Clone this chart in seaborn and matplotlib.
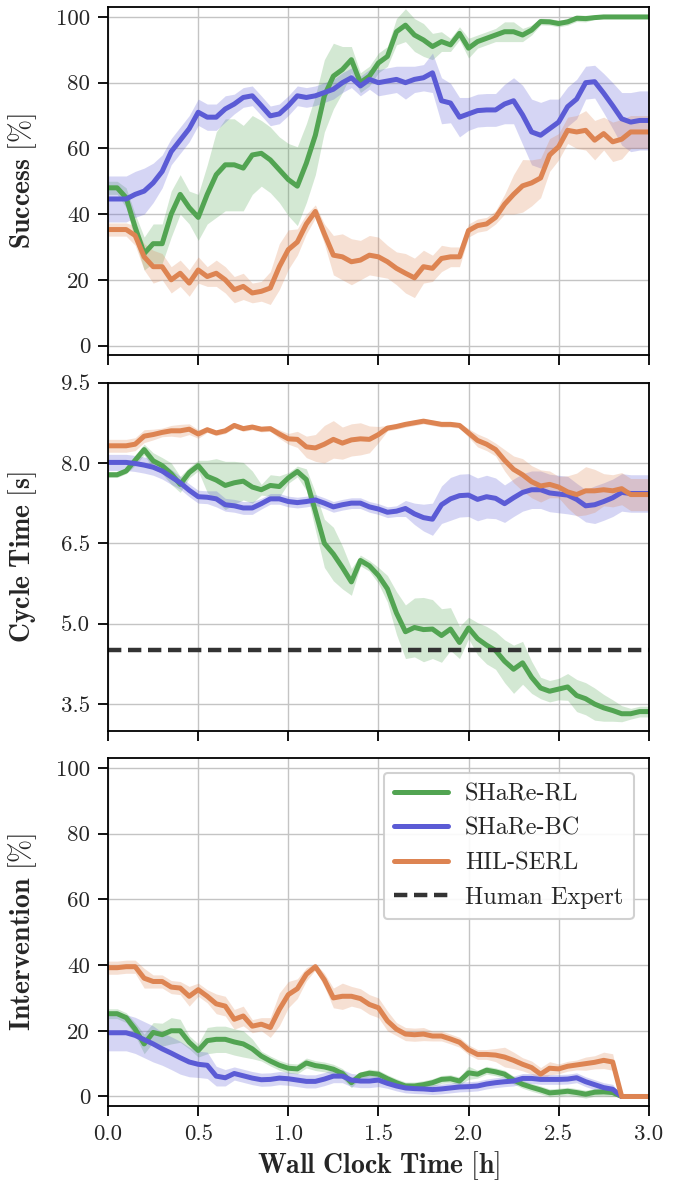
import numpy as np
import pandas as pd
import matplotlib
matplotlib.use("Agg")
import matplotlib.pyplot as plt
from matplotlib.lines import Line2D
import seaborn as sns

# ---------------- data ----------------
time_h = [round(0.05 * i, 2) for i in range(61)]

methods = ["SHaRe-RL", "SHaRe-BC", "HIL-SERL"]
colors = {"SHaRe-RL": "#52a452", "SHaRe-BC": "#5b5bd5", "HIL-SERL": "#dd8452"}
human_expert_cycle = 4.5

# Success [%]
succ_rl = [48, 48, 45, 36, 28, 31, 31, 40, 46, 42, 39, 46, 52, 55, 55, 54, 58, 58.5, 56.5, 53.5,
           50.5, 48.5, 55.5, 64, 76, 82, 84, 87, 80, 82, 86, 88, 95.5, 97.5, 94.5, 93, 91, 92.5, 91.5, 95,
           90.5, 92.5, 93.5, 94.5, 95.5, 95.5, 94.5, 96, 98.6, 98.5, 98, 98.5, 99.6, 99.5, 99.8, 100, 100, 100, 100, 100, 100]
succ_rl_ci = [2, 2, 3, 4, 5, 6, 6, 7, 6, 5, 7, 9, 13, 14, 14, 13, 12, 10, 10, 10,
              11, 12, 12, 12, 11, 10, 7, 4, 3, 3, 3, 3, 4, 5, 5, 5, 4, 3, 2, 2,
              3, 2, 2, 2, 3, 3, 2, 1.5, 1, 1, 1, 1, 1, 1, 0.5, 0.3, 0.3, 0.3, 0.3, 0.3, 0.3]
succ_bc = [44.6, 44.6, 44.6, 46, 47, 49.5, 53, 59, 62.5, 66, 71, 69.5, 69.5, 72, 73.5, 75.5, 76, 73, 69.9, 70.5,
           73, 76, 75.5, 76, 77, 78, 80, 81.5, 79, 81, 80, 80.5, 81, 80, 81, 81.5, 83, 74.5, 73.8, 69.5,
           70.5, 71.5, 71.7, 71.7, 73.5, 74.5, 70.2, 65, 64, 66, 68, 72.7, 75, 80, 80.3, 76.8, 73, 69, 68, 68.5, 68.5]
succ_bc_ci = [7, 7, 7, 7, 7, 6, 5, 4, 4, 4, 4, 4, 4, 4, 3, 3, 3, 3, 3, 3,
              3, 3, 3, 3, 3, 3, 3, 3, 3, 3, 4, 4, 4, 5, 4, 4, 6, 7, 6, 6,
              5, 5, 5, 5, 6, 7, 9, 10, 10, 9, 7, 6, 6, 5, 5, 6, 7, 8, 9, 9, 9]
succ_hil = [35.3, 35.3, 35.3, 33.5, 27, 24, 24, 20, 22, 19, 23, 21, 22, 20, 17, 18, 16, 16.5, 17.5, 24,
            29.2, 31.5, 37, 40.8, 34, 27.5, 27, 25.5, 26, 27.5, 27, 25.5, 23.5, 22, 20.6, 24, 23.5, 26.5, 27, 27,
            35, 36.5, 37, 39, 43, 46, 48.6, 49.5, 51, 58, 60.5, 65.5, 65, 65.5, 62.5, 64.5, 62, 62.8, 65, 65, 65]
succ_hil_ci = [2, 2, 2, 3, 4, 5, 4, 4, 4, 4, 4, 3, 4, 4, 4, 4, 3, 3, 5, 7,
               6, 4, 3, 2, 3, 6, 7, 7, 6, 6, 6, 5, 5, 6, 6, 5, 4, 4, 3, 3,
               2, 2, 2, 2, 3, 6, 8, 7, 6, 5, 4, 4, 5, 6, 6, 5, 6, 6, 5, 5, 5]

# Cycle time [s]
cyc_rl = [7.78, 7.78, 7.85, 8.05, 8.25, 8.04, 7.95, 7.8, 7.6, 7.82, 7.95, 7.75, 7.68, 7.58, 7.63, 7.66, 7.55, 7.5, 7.58, 7.56,
          7.72, 7.84, 7.69, 7.1, 6.5, 6.3, 6.05, 5.78, 6.18, 6.08, 5.9, 5.65, 5.2, 4.85, 4.93, 4.89, 4.9, 4.78, 4.9, 4.65,
          4.92, 4.72, 4.6, 4.5, 4.3, 4.15, 4.27, 4.0, 3.8, 3.74, 3.78, 3.82, 3.66, 3.6, 3.5, 3.43, 3.38, 3.32, 3.32, 3.36, 3.36]
cyc_rl_ci = [0.05, 0.05, 0.05, 0.1, 0.1, 0.15, 0.15, 0.2, 0.15, 0.1, 0.1, 0.3, 0.4, 0.45, 0.4, 0.35, 0.3, 0.1, 0.2, 0.2,
             0.1, 0.1, 0.2, 0.35, 0.45, 0.5, 0.4, 0.25, 0.1, 0.1, 0.15, 0.25, 0.4, 0.5, 0.55, 0.6, 0.55, 0.5, 0.4, 0.3,
             0.2, 0.3, 0.35, 0.35, 0.4, 0.45, 0.4, 0.3, 0.2, 0.2, 0.2, 0.25, 0.3, 0.3, 0.3, 0.25, 0.2, 0.15, 0.1, 0.1, 0.1]
cyc_bc = [8.01, 8.01, 8.01, 7.99, 7.96, 7.92, 7.85, 7.74, 7.63, 7.49, 7.37, 7.36, 7.33, 7.22, 7.2, 7.16, 7.16, 7.24, 7.33, 7.33,
          7.28, 7.26, 7.28, 7.31, 7.25, 7.18, 7.22, 7.25, 7.25, 7.18, 7.14, 7.08, 7.1, 7.15, 7.05, 6.98, 6.95, 7.22, 7.33, 7.39,
          7.4, 7.32, 7.37, 7.34, 7.24, 7.35, 7.45, 7.5, 7.5, 7.44, 7.42, 7.4, 7.32, 7.2, 7.22, 7.28, 7.35, 7.45, 7.43, 7.43, 7.43]
cyc_bc_ci = [0.15, 0.15, 0.15, 0.15, 0.15, 0.15, 0.15, 0.14, 0.12, 0.12, 0.12, 0.12, 0.15, 0.12, 0.12, 0.12, 0.12, 0.1, 0.1, 0.1,
             0.1, 0.1, 0.1, 0.1, 0.1, 0.1, 0.1, 0.1, 0.1, 0.1, 0.1, 0.1, 0.1, 0.15, 0.2, 0.25, 0.3, 0.35, 0.4, 0.4,
             0.4, 0.4, 0.4, 0.38, 0.35, 0.35, 0.35, 0.35, 0.35, 0.35, 0.35, 0.35, 0.3, 0.3, 0.35, 0.35, 0.35, 0.35, 0.35, 0.35, 0.35]
cyc_hil = [8.32, 8.32, 8.32, 8.35, 8.5, 8.53, 8.57, 8.6, 8.6, 8.63, 8.54, 8.62, 8.56, 8.6, 8.7, 8.64, 8.67, 8.63, 8.64, 8.54,
           8.45, 8.44, 8.3, 8.28, 8.35, 8.44, 8.37, 8.43, 8.45, 8.44, 8.53, 8.65, 8.68, 8.72, 8.75, 8.78, 8.75, 8.72, 8.72, 8.7,
           8.56, 8.42, 8.35, 8.25, 8.05, 7.88, 7.78, 7.65, 7.57, 7.6, 7.55, 7.46, 7.41, 7.48, 7.48, 7.5, 7.48, 7.52, 7.41, 7.41, 7.41]
cyc_hil_ci = [0.12, 0.12, 0.12, 0.12, 0.12, 0.1, 0.08, 0.1, 0.12, 0.1, 0.08, 0.05, 0.05, 0.05, 0.05, 0.05, 0.05, 0.05, 0.05, 0.08,
              0.1, 0.15, 0.2, 0.25, 0.35, 0.35, 0.3, 0.3, 0.3, 0.25, 0.15, 0.05, 0.05, 0.05, 0.05, 0.05, 0.05, 0.05, 0.05, 0.05,
              0.08, 0.12, 0.12, 0.12, 0.2, 0.25, 0.3, 0.3, 0.3, 0.25, 0.2, 0.3, 0.4, 0.45, 0.4, 0.3, 0.3, 0.3, 0.3, 0.3, 0.3]

# Intervention [%]
int_rl = [25.2, 25.2, 24, 20.5, 16, 19.5, 18.8, 20, 20, 16.5, 14, 17, 17.4, 17.4, 16.6, 16, 14.5, 12.3, 10.8, 9.5,
          8.6, 8.4, 10.2, 9.4, 9, 8.3, 7, 4.2, 6.5, 7.1, 6.8, 5.4, 4.2, 3.2, 3.2, 3.6, 4.2, 5.2, 5.4, 4.7,
          7.2, 6.8, 8, 7.5, 6.8, 5, 3.7, 2.8, 2, 1.1, 1.3, 1.6, 1.2, 0.7, 1.3, 1.4, 1.2, 0, 0, 0, 0]
int_rl_ci = [1.5, 1.5, 1.5, 2, 3, 3, 3.5, 4, 3.5, 2, 2, 4, 4, 4, 4, 4, 3, 1.5, 1.5, 1.5,
             1.5, 1.5, 1.5, 1.5, 1.5, 1.5, 1.5, 1.5, 1, 1.2, 1.2, 1.2, 1.2, 1.2, 1.2, 1.2, 1.2, 1.2, 1.2, 1.2,
             2, 1.2, 1.2, 1.2, 1.2, 1.2, 1.2, 1.2, 1.2, 1.2, 1.2, 1.2, 1.2, 1.2, 1.2, 1.2, 1.2, 0, 0, 0, 0]
int_bc = [19.4, 19.4, 19.4, 18.6, 17.3, 16, 14.5, 13.2, 11.8, 10.5, 9.8, 9.5, 6.2, 5.7, 7, 6.3, 5.6, 5.1, 5.2, 5.6,
          5.4, 5, 4.6, 4.6, 5.3, 6.2, 6.2, 5, 4.7, 4.7, 5, 4, 3.2, 2.6, 2.4, 2.3, 2.1, 2.3, 2.6, 2.9,
          3.0, 3.2, 3.8, 4.2, 4.5, 4.7, 5.5, 5.5, 5.2, 5.2, 5.2, 5.3, 5.7, 4.5, 3.6, 2.7, 2.2, 0, 0, 0, 0]
int_bc_ci = [5.5, 5.5, 5.5, 5.5, 5.5, 5.5, 5, 5, 5, 4.5, 4, 4, 3, 2.5, 2, 2, 2, 2, 2, 2,
             2, 2, 2, 2, 2, 2, 2, 2, 2, 2, 2, 1.5, 1.5, 1.5, 1.5, 1.5, 1.5, 1.5, 1.5, 1.5,
             1.5, 1.5, 1.5, 1.5, 1.5, 1.5, 1.5, 1.5, 1.5, 1.5, 1.5, 1.5, 1.5, 1.5, 1.5, 1.5, 1.5, 0, 0, 0, 0]
int_hil = [39.2, 39.2, 39.5, 39.5, 36, 35, 35, 33.3, 33, 30.5, 32.5, 30.5, 28.2, 27.5, 23.5, 24.5, 21.4, 22, 21, 26.5,
           31, 32.8, 37.2, 39.5, 35.5, 30, 30.5, 30.5, 29.8, 28, 27, 23, 20.5, 19, 18.8, 19, 18.4, 18.4, 17.5, 16.5,
           14.2, 12.8, 12.8, 12.6, 12, 11, 9.8, 8.8, 6.8, 8.6, 8.4, 9.2, 9.6, 10, 10.4, 11, 10.5, 0, 0, 0, 0]
int_hil_ci = [2, 2, 2, 2, 3, 2, 2, 2, 2, 3, 2, 2, 3, 3, 3, 3, 2, 2, 3, 5,
              4, 3, 2, 1, 2, 3, 4, 3, 3, 3, 3, 3, 2, 2, 2, 2, 1.5, 1.5, 1.5, 1.5,
              1.5, 1.5, 1.5, 2, 3, 2.5, 2, 2, 2, 2, 1.5, 1.5, 1.5, 2, 2, 2.5, 2.5, 0, 0, 0, 0]

panels = [
    ("Success", "%", {"SHaRe-RL": (succ_rl, succ_rl_ci), "SHaRe-BC": (succ_bc, succ_bc_ci), "HIL-SERL": (succ_hil, succ_hil_ci)}),
    ("Cycle Time", "s", {"SHaRe-RL": (cyc_rl, cyc_rl_ci), "SHaRe-BC": (cyc_bc, cyc_bc_ci), "HIL-SERL": (cyc_hil, cyc_hil_ci)}),
    ("Intervention", "%", {"SHaRe-RL": (int_rl, int_rl_ci), "SHaRe-BC": (int_bc, int_bc_ci), "HIL-SERL": (int_hil, int_hil_ci)}),
]

# ---------------- style ----------------
sns.set_style("ticks")
plt.rcParams["font.family"] = ["cmr10", "DejaVu Serif"]
plt.rcParams["mathtext.fontset"] = "cm"
plt.rcParams["axes.formatter.use_mathtext"] = True
plt.rcParams["axes.unicode_minus"] = False

fig, axes = plt.subplots(3, 1, figsize=(6.8, 11.82), dpi=100, sharex=True)
fig.subplots_adjust(left=0.159, right=0.954, top=0.994, bottom=0.064, hspace=0.078)

tick_fs = 16.5
label_fs = 20
legend_fs = 17.5
dash = (0, (3.0, 1.5))

for i, (ax, (name, unit, series)) in enumerate(zip(axes, panels)):
    rows = []
    for m in methods:
        mean, ci = series[m]
        for t, v in zip(time_h, mean):
            rows.append({"time": t, "value": v, "method": m})
    df = pd.DataFrame(rows)
    for m in methods:
        mean, ci = series[m]
        lo = np.array(mean) - np.array(ci)
        hi = np.array(mean) + np.array(ci)
        ax.fill_between(time_h, lo, hi, color=colors[m], alpha=0.25, linewidth=0)
    sns.lineplot(data=df, x="time", y="value", hue="method", hue_order=methods,
                 palette=colors, linewidth=3.6, ax=ax, legend=False)
    if i == 1:
        ax.axhline(human_expert_cycle, color="#333333", linestyle=dash, linewidth=3.2)
        ax.set_ylim(3.0, 9.5)
        ax.set_yticks([3.5, 5.0, 6.5, 8.0, 9.5])
        ax.set_yticklabels(["3.5", "5.0", "6.5", "8.0", "9.5"])
    else:
        ax.set_ylim(-3, 103)
        ax.set_yticks([0, 20, 40, 60, 80, 100])
        ax.set_yticklabels(["0", "20", "40", "60", "80", "100"])
    ax.set_xlim(0, 3.0)
    ax.set_xticks([0, 0.5, 1.0, 1.5, 2.0, 2.5, 3.0])
    ax.grid(True, color="#c4c4c4", linewidth=1.0)
    ax.set_axisbelow(True)
    unit_tex = r"\%" if unit == "%" else unit
    ax.set_ylabel(r"$\mathbf{%s\ [%s]}$" % (name.replace(" ", r"\ "), unit_tex), fontsize=label_fs)
    ax.yaxis.set_label_coords(-0.128, 0.5)
    ax.set_xlabel("")
    ax.tick_params(axis="both", labelsize=tick_fs, length=7, width=1.3, pad=6,
                   direction="out", color="black")
    for s in ax.spines.values():
        s.set_color("black")
        s.set_linewidth(1.3)
    for lab in ax.get_xticklabels() + ax.get_yticklabels():
        lab.set_fontfamily(["cmr10", "DejaVu Serif"])

axes[2].set_xticklabels(["0.0", "0.5", "1.0", "1.5", "2.0", "2.5", "3.0"])
axes[2].set_xlabel(r"$\mathbf{Wall\ Clock\ Time\ [h]}$", fontsize=label_fs, labelpad=4)

handles = [Line2D([0], [0], color=colors[m], linewidth=3.6) for m in methods]
handles.append(Line2D([0], [0], color="#333333", linewidth=3.2, linestyle=dash))
leg = axes[2].legend(handles, methods + ["Human Expert"], loc="upper right", fontsize=legend_fs,
                     frameon=True, framealpha=0.9, edgecolor="#cccccc", fancybox=True,
                     handlelength=2.2, handletextpad=0.7, labelspacing=0.5,
                     borderpad=0.45, borderaxespad=0.6)
leg.get_frame().set_linewidth(1.5)

fig.savefig("out.png", dpi=100)
